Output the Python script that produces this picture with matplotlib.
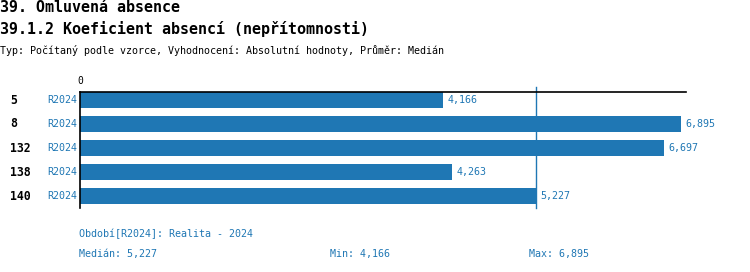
import matplotlib.pyplot as plt

W, H = 750, 272
BLUE = "#1f77b4"
MONO = "DejaVu Sans Mono"

titles = ["39. Omluvená absence", "39.1.2 Koeficient absencí (nepřítomnosti)"]
subtitle = "Typ: Počítaný podle vzorce, Vyhodnocení: Absolutní hodnoty, Průměr: Medián"
ids = ["5", "8", "132", "138", "140"]
periods = ["R2024", "R2024", "R2024", "R2024", "R2024"]
values = [4.166, 6.895, 6.697, 4.263, 5.227]
median, vmin, vmax = 5.227, 4.166, 6.895
legend_text = "Období[R2024]: Realita - 2024"


def fmt(v):
    return f"{v:.3f}".replace(".", ",")


def fx(px):
    return px / W


def fy(py):
    return 1 - py / H


fig = plt.figure(figsize=(W / 100, H / 100), dpi=100)
ax = fig.add_axes([fx(80), fy(208), fx(686) - fx(80), fy(92) - fy(208)])

pos = list(range(len(values)))
ax.barh(pos, values, height=0.66, color=BLUE)
ax.set_ylim(4.5, -1 / 3)
ax.set_xlim(0, 6.95)

for i, v in enumerate(values):
    ax.text(v + 0.05, i, fmt(v), color=BLUE, fontsize=7.2, family=MONO,
            va="center", ha="left")

ax.axvline(median, ymin=0, ymax=1.045, color=BLUE, lw=1, clip_on=False)

for s in ["right", "bottom"]:
    ax.spines[s].set_visible(False)
for s in ["top", "left"]:
    ax.spines[s].set_color("black")
    ax.spines[s].set_linewidth(1.2)
ax.set_xticks([])
ax.set_yticks([])
ax.text(0, 1.05, "0", transform=ax.get_xaxis_transform(), ha="center",
        va="bottom", fontsize=7, family=MONO)

for i, (lab, per) in enumerate(zip(ids, periods)):
    y = fy(100 + 24 * i)
    fig.text(fx(10), y, lab, fontsize=8.3, family=MONO, weight="bold",
             va="center", ha="left")
    fig.text(fx(77), y, per, fontsize=7.2, family=MONO, color=BLUE,
             va="center", ha="right")

fig.text(fx(0), fy(8), titles[0], fontsize=10.8, family=MONO, weight="bold",
         va="center", ha="left")
fig.text(fx(0), fy(29), titles[1], fontsize=10.8, family=MONO, weight="bold",
         va="center", ha="left")
fig.text(fx(0), fy(50), subtitle, fontsize=7.2, family=MONO,
         va="center", ha="left")

fig.text(fx(79), fy(234), legend_text, fontsize=7.2, family=MONO, color=BLUE,
         va="center", ha="left")
fig.text(fx(79), fy(254), f"Medián: {fmt(median)}", fontsize=7.2, family=MONO,
         color=BLUE, va="center", ha="left")
fig.text(fx(330), fy(254), f"Min: {fmt(vmin)}", fontsize=7.2, family=MONO,
         color=BLUE, va="center", ha="left")
fig.text(fx(529), fy(254), f"Max: {fmt(vmax)}", fontsize=7.2, family=MONO,
         color=BLUE, va="center", ha="left")

fig.savefig("out.png", dpi=100)
